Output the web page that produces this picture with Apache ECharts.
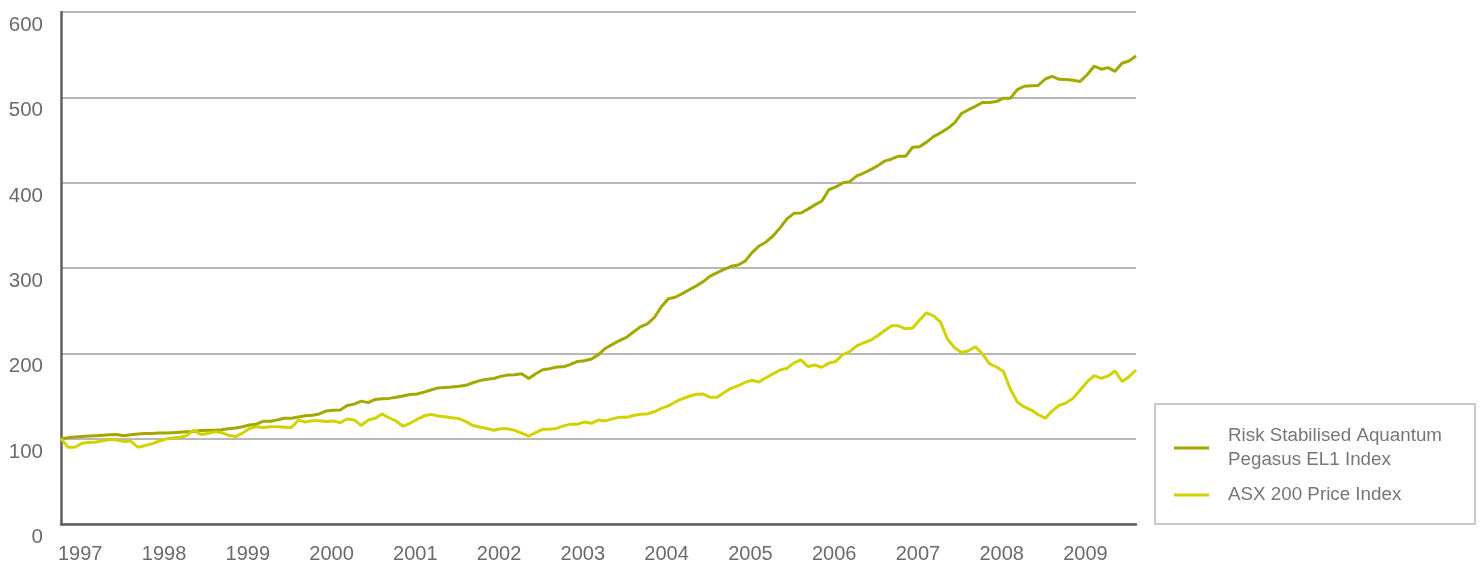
<!DOCTYPE html>
<html>
<head>
<meta charset="utf-8">
<script src="https://cdn.jsdelivr.net/npm/echarts@6/dist/echarts.min.js"></script>
<style>
  html, body { margin: 0; padding: 0; background: #fff; }
  #chart { width: 1481px; height: 565px; }
</style>
</head>
<body>
<div id="chart"></div>
<script>
// monthly index values, Jan 1997 = 100
var years = ['1997', '1998', '1999', '2000', '2001', '2002', '2003',
             '2004', '2005', '2006', '2007', '2008', '2009'];

var riskStabilised = [
  100, 101, 102, 102.5, 103, 103.5, 104, 104.5, 105, 103.5,
  104.5, 105.5, 106, 106, 106.5, 106.5, 107, 107.5, 108, 108.5,
  109.5, 110, 110, 110.5, 111.5, 112.5, 114, 116, 117,
  120.5, 120.5, 122, 124, 124, 125.5, 126.8, 127.5, 129, 132.5,
  133.2, 133.6, 138.8, 140.5, 144, 142.2, 146, 146.8, 147.2, 148.5,
  150, 151.8, 152.3, 154.5, 157, 159.5,
  160, 160.5, 161.3, 162.5, 165.5, 168, 169.6, 170.5, 173, 174.6,
  175, 176, 170.5, 176, 180.7, 182, 184, 184.2, 187, 190.5,
  191.4, 193.3, 198.5, 206, 210.5, 215, 218.7, 225,
  231, 234.5, 242, 254.5, 264, 265.7, 270, 274.5, 279, 284,
  290.5, 294.5, 298.5, 302, 303.5, 308, 318, 325.8, 330.5, 337.5,
  347, 357.5, 364.1, 364.5, 369, 374,
  378.5, 391.7, 395, 399.8, 401.2, 408, 411.3, 415.3, 419.8, 425.3,
  427.8, 431, 431, 441.5, 442.2, 447.5, 454, 458.4, 463.4, 470,
  481, 485.5, 489.5, 494, 494,
  495, 499, 499, 509, 513, 513.5, 514, 521.5, 524.5, 521.1,
  521, 520, 518.5, 526.5, 536.5, 533, 534.8, 530.5, 540, 542.6,
  548.5
];

var asx200 = [
  100, 90, 90, 94.5, 95.5, 96.2, 97.5, 99, 98.4, 96.7,
  97.2, 90, 91.8, 94, 97, 99.5, 100.8, 101.6, 103.5, 110,
  105, 106, 108, 107.2, 104, 102.5, 106.5, 112, 114,
  113, 114, 114, 113.5, 113, 121.5, 119.5, 121.1, 121, 120,
  120.7, 118.8, 123, 122, 115.5, 121.8, 124, 128.8, 124.5, 120.7,
  114.5, 118, 122.5, 126.5, 128.5, 126.5,
  125.7, 124.5, 123.5, 120, 115.5, 113.6, 112, 109.8, 111.6, 111.5,
  109.8, 106.5, 103, 107, 111, 111, 112, 115, 117, 117,
  119.5, 118, 121.9, 120.8, 123.2, 125.2, 125, 127.2,
  128.5, 129, 131.5, 135.5, 138.5, 143, 146.8, 149.7, 152, 152.3,
  148.5, 148.5, 154, 159, 162, 166, 168.5, 166.5, 171.3, 176,
  180.5, 182.5, 188.8, 192.3, 184.6, 186.3,
  183.6, 188.5, 190.5, 198.6, 201.9, 208.7, 212.4, 215.3, 220.7, 226.7,
  232.2, 232.2, 228.7, 229.6, 239, 247.5, 244, 236.5, 216.5, 206.7,
  201, 203, 207.7, 199.5, 188,
  184, 179, 158, 143, 137.2, 133.5, 128, 124, 132.5, 139,
  142, 147.5, 157, 166.5, 174, 170.7, 173.4, 179.3, 167, 172.6,
  180.5
];

var months = [];
years.forEach(function (y) {
  for (var m = 1; m <= 12; m++) months.push(y + '-' + (m < 10 ? '0' + m : m));
});
months = months.slice(0, riskStabilised.length);

var font = '"Liberation Sans", Arial, sans-serif';
var greenCol = '#a3a800';
var yellowCol = '#d0d300';

var chart = echarts.init(document.getElementById('chart'));
chart.setOption({
  animation: false,
  textStyle: { fontFamily: font },
  grid: { left: 61, right: 345, top: 12, bottom: 41 },
  legend: {
    orient: 'vertical',
    left: 1155,
    top: 404,
    padding: [20, 33, 17, 19],
    itemGap: 11,
    itemWidth: 35,
    itemHeight: 3,
    icon: 'rect',
    borderColor: '#c8c8c8',
    borderWidth: 2,
    selectedMode: false,
    data: ['Risk Stabilised Aquantum Pegasus EL1 Index', 'ASX 200 Price Index'],
    formatter: function (name) {
      return name === 'ASX 200 Price Index' ? name : 'Risk Stabilised Aquantum\nPegasus EL1 Index';
    },
    textStyle: {
      fontSize: 18.8,
      color: '#777',
      lineHeight: 24,
      padding: [0, 0, 0, 14],
      fontFamily: font
    }
  },
  xAxis: {
    type: 'category',
    boundaryGap: false,
    data: months,
    axisLine: { lineStyle: { color: '#5f5f5f', width: 2.5 } },
    axisTick: { show: false },
    splitLine: { show: false },
    axisLabel: {
      interval: function (idx) { return idx % 12 === 0; },
      formatter: function (v) { return v.slice(0, 4); },
      align: 'left',
      margin: 20,
      fontSize: 20,
      color: '#6b6b6b',
      padding: [0, 0, 0, -3]
    }
  },
  yAxis: {
    type: 'value',
    min: 0,
    max: 600,
    interval: 100,
    axisLine: { show: true, lineStyle: { color: '#5f5f5f', width: 2.5 } },
    axisTick: { show: false },
    splitLine: { lineStyle: { color: '#b8b8b8', width: 2 } },
    axisLabel: {
      verticalAlign: 'top',
      margin: 18,
      fontSize: 20.5,
      color: '#6b6b6b',
      padding: [3, 0, 0, 0]
    }
  },
  series: [
    {
      name: 'Risk Stabilised Aquantum Pegasus EL1 Index',
      type: 'line',
      data: riskStabilised,
      symbol: 'none',
      color: greenCol,
      lineStyle: { color: greenCol, width: 3 }
    },
    {
      name: 'ASX 200 Price Index',
      type: 'line',
      data: asx200,
      symbol: 'none',
      color: yellowCol,
      lineStyle: { color: yellowCol, width: 3 }
    }
  ]
});
</script>
</body>
</html>
